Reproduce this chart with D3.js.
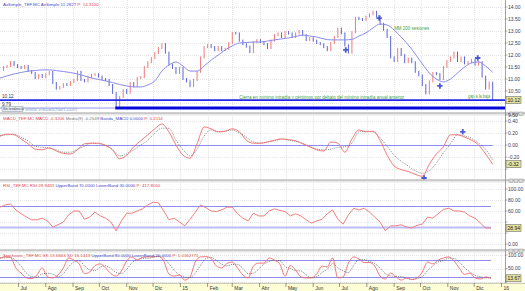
<!DOCTYPE html>
<html><head><meta charset="utf-8">
<script src="https://cdn.jsdelivr.net/npm/d3@7/dist/d3.min.js"></script>
<style>html,body{margin:0;padding:0;background:#fff;overflow:hidden}svg{display:block;font-family:Arial,"Liberation Sans",sans-serif}</style>
</head><body><svg id="c" width="525" height="291"></svg>
<script>
// ---------------- DATA ----------------
const startDate = "2014-06-10";
const endDate = "2016-01-05";
const priceStepDays = 4, maStepDays = 8, oscStepDays = 6;

// closing prices, one every 4 calendar days
const closes = [11.38,11.5,11.54,11.71,11.58,11.5,11.46,11.54,11.33,11.25,11.04,11.17,11.08,11.2,11.29,10.83,10.6,10.67,10.79,10.75,
10.87,10.96,11.3,10.96,10.9,11.08,11.17,11.2,11.1,11.0,10.96,10.75,10.42,9.82,10.25,10.54,10.42,10.83,10.7,11.04,
11.08,11.5,11.7,11.87,12.08,12.29,12.45,12.1,11.6,11.46,11.25,11.46,11.0,10.9,10.7,10.96,11.3,11.9,12.33,12.42,
12.33,12.2,12.33,12.2,12.25,12.5,12.92,12.9,12.6,12.45,12.35,12.12,12.54,12.62,12.54,12.45,12.29,12.6,12.83,12.9,
12.75,12.96,12.9,12.75,12.9,13.0,12.83,12.62,12.7,12.6,12.5,12.45,12.33,12.2,12.5,12.75,13.1,12.9,12.4,12.1,
12.95,13.55,13.5,13.46,13.6,13.7,13.8,13.6,13.3,13.05,12.75,11.9,11.75,12.25,12.0,11.7,11.85,11.7,11.3,11.15,
10.75,10.4,10.9,11.25,11.2,11.0,11.5,11.75,11.9,12.1,11.75,11.9,11.65,11.7,11.8,11.6,11.7,11.1,10.6,10.85,10.12];

// AxSimple (MM 200 sesiones), one every 8 days
const movingAvg = [11.04,11.13,11.21,11.27,11.33,11.35,11.38,11.38,11.35,11.31,11.27,11.21,11.13,11.04,10.98,10.92,10.85,10.77,10.71,10.67,
10.67,10.75,10.92,11.33,11.58,11.71,11.54,11.33,11.33,11.54,11.79,12.0,12.21,12.38,12.5,12.52,12.54,12.54,12.58,12.63,
12.67,12.71,12.77,12.83,12.79,12.75,12.67,12.63,12.63,12.63,12.65,12.79,12.92,13.13,13.29,13.25,13.04,12.75,12.42,12.04,
11.63,11.25,11.0,10.88,11.0,11.25,11.5,11.67,11.71,11.54,11.28];

// MACD and its 9-period average, one every 8 days
const macdLine = [0.15,0.18,0.17,0.10,0.02,-0.07,-0.08,-0.05,-0.10,-0.14,-0.15,-0.08,0.02,0.03,0.03,-0.01,-0.08,-0.23,-0.17,-0.03,
0.07,0.17,0.27,0.35,0.22,0.0,-0.17,-0.22,0.02,0.30,0.27,0.22,0.23,0.27,0.22,0.08,0.03,0.03,0.05,0.08,
0.10,0.09,0.07,0.02,-0.03,-0.08,-0.10,0.05,0.03,-0.12,0.10,0.25,0.22,0.23,0.08,-0.17,-0.35,-0.41,-0.44,-0.49,
-0.52,-0.32,-0.15,-0.03,0.17,0.17,0.13,0.08,0.0,-0.15,-0.32];
const macdSignal = [0.15,0.17,0.18,0.13,0.07,-0.02,-0.04,-0.05,-0.08,-0.12,-0.12,-0.07,-0.02,0.03,0.02,0.0,-0.08,-0.18,-0.15,-0.08,
0.0,0.08,0.2,0.28,0.28,0.08,-0.08,-0.18,-0.07,0.15,0.25,0.22,0.23,0.25,0.2,0.13,0.05,0.03,0.05,0.07,
0.10,0.08,0.06,0.03,-0.02,-0.07,-0.08,-0.07,-0.04,-0.03,0.03,0.22,0.23,0.22,0.12,-0.02,-0.17,-0.27,-0.35,-0.43,
-0.47,-0.43,-0.3,-0.13,0.02,0.17,0.15,0.11,0.03,-0.07,-0.25];

// RSI, one every 6 days
const rsiValues = [67,71,73,62,55,49,44,44,47,42,31,35,40,53,60,60,45,49,58,51,
47,40,24,42,56,56,60,64,71,76,75,60,44,47,40,33,45,58,71,66,
60,59,62,67,67,55,47,42,56,51,51,60,64,61,59,51,55,51,44,38,
42,45,55,62,45,36,53,65,62,65,58,49,40,24,33,33,35,31,29,34,
36,49,47,55,63,65,60,60,58,51,47,38,29,28.94];

// Stochastic %K and %D, one every 6 days
const stochK = [89,93,91,52,33,15,13,26,52,19,15,26,52,89,81,67,31,37,61,67,
52,31,22,41,78,93,81,91,93,93,96,78,30,22,26,7,19,74,93,94,
87,59,52,69,74,52,26,15,59,70,70,89,81,67,22,61,44,19,15,15,
30,59,56,89,15,19,70,93,85,72,72,59,22,11,33,19,7,15,9,15,
37,74,67,81,89,93,78,52,28,33,15,11,19,13.67];
const stochD = [88,90,91,79,59,33,20,18,30,32,29,20,31,56,74,79,60,45,43,55,
60,50,35,31,47,71,84,88,88,92,94,89,68,43,26,18,17,33,62,87,
91,80,66,60,65,65,51,31,33,48,66,76,80,79,57,50,42,41,26,16,
20,35,48,68,53,41,35,61,83,83,76,68,51,31,22,21,20,14,10,13,
20,42,59,74,79,88,87,74,53,38,25,20,15,16.1];

// levels and bands
const prevAnnualLow = 10.12;
const octLow = 9.79, octLowDate = "2014-10-19";
const macdBand = 0, rsiBands = [70, 30], stochBands = [80, 20];

// tick values
const priceTicks = [14,13.5,13,12.5,12,11.5,11,10.5,10,9.5];
const macdTicks = [0.4,0.2,0,-0.2,-0.4];
const rsiTicks = [100,80,60,40,20,0];
const stochTicks = [100,50,0];
const monthLabels = ["Jul","Ago","Sep","Oct","Nov","Dic","15","Feb","Mar","Abr","May","Jun","Jul","Ago","Sep","Oct","Nov","Dic","16"];
const firstMonth = "2014-07-01";

// signal markers
const priceSignalDates = ["2015-07-08","2015-08-15","2015-10-23","2015-12-05"];
const priceSignalValues = [12.21,13.54,10.71,11.875];
const macdSignalDates = ["2015-11-18","2015-10-05"];
const macdSignalValues = [0.22,-0.55];

// texts
const mainHeader = [["AxSimple_TEF.MC  AxSimple 11.2827  ","#4848c8"],["P: 14.3100","#e04848"]];
const macdHeader = [["MACD_TEF.MC  MACD -0.3206  ","#e04848"],["Media(9) -0.2549  ","#777"],["Banda_MACD 0.0000  ","#4848c8"],["P: 0.2114","#e04848"]];
const rsiHeader = [["RSI_TEF.MC  RSI 28.9433  ","#e04848"],["UpperBand 70.0000  LowerBand 30.0000  ","#4848c8"],["P: 417.8160","#e04848"]];
const stochHeader = [["Stochastic_TEF.MC  SK 13.6663  SD 16.1443  ","#e04848"],["UpperBand 80.0000  LowerBand 20.0000  ","#4848c8"],["P: 1.0162771","#e04848"]];
const annotations = [
  {text:"MM 200 sesiones", date:"2015-09-01", value:13.06, len:35},
  {text:"Cierra en mínimo intradía y céntimos por debajo del mínimo intradía anual anterior", date:"2015-03-09", value:10.17, len:165},
  {text:"gap a la baja", date:"2015-11-24", value:10.21, len:22}
];

// ---------------- DRAW ----------------
const parse = d3.timeParse("%Y-%m-%d");
const t0 = parse(startDate), t1 = parse(endDate);
const plotRight = 505;
const x = d3.scaleTime().domain([t0, t1]).range([0, plotRight]);
const seriesDates = (n, step) => d3.range(n).map(i => d3.timeDay.offset(t0, i * step));
const svg = d3.select("#c");
const fmt2 = v => v.toFixed(2);
const snap = v => Math.round(v) + 0.5;

const panels = {
  main: {top:0, bottom:112.5, y:d3.scaleLinear().domain([9.5,14]).range([115,7]), ticks:priceTicks},
  macd: {top:115.5, bottom:179.5, y:d3.scaleLinear().domain([-0.4,0.4]).range([169,121]), ticks:macdTicks},
  rsi:  {top:182.5, bottom:249.5, y:d3.scaleLinear().domain([0,100]).range([244,189]), ticks:rsiTicks},
  sto:  {top:252.5, bottom:283, y:d3.scaleLinear().domain([0,100]).range([282,255]), ticks:stochTicks}
};
const defs = svg.append("defs");
Object.entries(panels).forEach(([k,p]) => {
  defs.append("clipPath").attr("id","clip-"+k).append("rect")
    .attr("x",0).attr("y",p.top).attr("width",plotRight).attr("height",p.bottom-p.top);
  p.g = svg.append("g").attr("clip-path","url(#clip-"+k+")");
});

const months = d3.timeMonth.range(parse(firstMonth), d3.timeDay.offset(t1, 1));

// grids
Object.values(panels).forEach(p => {
  p.g.selectAll(".vg").data(months).join("line")
    .attr("x1",d=>snap(x(d))).attr("x2",d=>snap(x(d))).attr("y1",p.top).attr("y2",p.bottom)
    .attr("stroke","#d8d8d8").attr("stroke-width",0.7).attr("stroke-dasharray","1,1");
  p.g.selectAll(".hg").data(p.ticks).join("line")
    .attr("x1",0).attr("x2",plotRight).attr("y1",d=>snap(p.y(d))).attr("y2",d=>snap(p.y(d)))
    .attr("stroke","#dcdcdc").attr("stroke-width",0.7).attr("stroke-dasharray","1,1");
});

function band(p, v, x2, color, w){
  p.g.append("line").attr("x1",0).attr("x2",x2).attr("y1",snap(p.y(v))).attr("y2",snap(p.y(v)))
    .attr("stroke",color).attr("stroke-width",w);
}

// ---- main panel ----
const pm = panels.main, ym = pm.y;
const pDates = seriesDates(closes.length, priceStepDays);
const bars = closes.slice(1).map((c,i) => ({date:pDates[i+1], open:closes[i], close:c}));
pm.g.selectAll(".bar").data(bars).join("rect")
  .attr("x", d => x(d.date) - 0.5).attr("width", 1)
  .attr("y", d => Math.min(ym(d.open), ym(d.close)) - 1)
  .attr("height", d => Math.abs(ym(d.open) - ym(d.close)) + 2)
  .attr("fill", d => d.close >= d.open ? "#f07a7a" : "#5c66d2");

const maDates = seriesDates(movingAvg.length, maStepDays);
pm.g.append("path").datum(movingAvg)
  .attr("d", d3.line().x((d,i)=>x(maDates[i])).y(d=>ym(d)).curve(d3.curveMonotoneX))
  .attr("fill","none").attr("stroke","#8a8aee").attr("stroke-width",1);

// horizontal levels
pm.g.append("line").attr("x1",0).attr("x2",plotRight).attr("y1",ym(prevAnnualLow)).attr("y2",ym(prevAnnualLow))
  .attr("stroke","#2626e6").attr("stroke-width",1.6);
pm.g.append("line").attr("x1",0).attr("x2",x(parse(octLowDate))).attr("y1",ym(octLow)).attr("y2",ym(octLow))
  .attr("stroke","#7a7af0").attr("stroke-width",0.8);
pm.g.append("line").attr("x1",x(parse(octLowDate))).attr("x2",plotRight).attr("y1",ym(octLow)).attr("y2",ym(octLow))
  .attr("stroke","#0808dc").attr("stroke-width",3);
svg.append("text").attr("x",2).attr("y",ym(prevAnnualLow)-2).attr("font-size",4.6).attr("fill","#334").text(fmt2(prevAnnualLow));
svg.append("text").attr("x",2).attr("y",ym(octLow)-2.2).attr("font-size",4.6).attr("fill","#334").text(fmt2(octLow));

// watermark & trend box
svg.append("rect").attr("x",2).attr("y",106.5).attr("width",21).attr("height",5).attr("fill","#e6ecf2").attr("stroke","#7f8fa0").attr("stroke-width",0.5);
svg.append("text").attr("x",3).attr("y",110.3).attr("font-size",3.4).attr("fill","#445").text("Sin tendencia");
svg.append("text").attr("x",25).attr("y",111.3).attr("font-size",5.6).attr("fill","#9aaccc").text("www.visualchart.com");

// annotations
annotations.forEach(a => {
  svg.append("text").attr("x",x(parse(a.date))).attr("y",ym(a.value)).attr("font-size",5.2)
    .attr("fill","#3fa23f").attr("textLength",a.len).attr("lengthAdjust","spacingAndGlyphs").text(a.text);
});

// crosses
const cross = d3.symbol().type(d3.symbolCross).size(16);
svg.selectAll(".pc").data(priceSignalDates).join("path")
  .attr("transform",(d,i)=>`translate(${x(parse(d))},${ym(priceSignalValues[i])})`)
  .attr("d",cross).attr("fill","#4a5ad6");

// ---- MACD ----
const pc = panels.macd, yc = pc.y;
const cDates = seriesDates(macdLine.length, maStepDays);
const lastC = x(cDates[cDates.length-1]);
band(pc, macdBand, lastC, "#8c8cf2", 1);
pc.g.append("path").datum(macdSignal)
  .attr("d", d3.line().x((d,i)=>x(cDates[i])).y(d=>yc(d)).curve(d3.curveMonotoneX))
  .attr("fill","none").attr("stroke","#6a6a6a").attr("stroke-width",0.8).attr("stroke-dasharray","1,1.2");
pc.g.append("path").datum(macdLine)
  .attr("d", d3.line().x((d,i)=>x(cDates[i])).y(d=>yc(d)).curve(d3.curveMonotoneX))
  .attr("fill","none").attr("stroke","#f06a6a").attr("stroke-width",0.9);
svg.selectAll(".mc").data(macdSignalDates).join("path")
  .attr("transform",(d,i)=>`translate(${x(parse(d))},${yc(macdSignalValues[i])})`)
  .attr("d",cross).attr("fill","#4a5ad6");

// ---- RSI ----
const pr = panels.rsi, yr = pr.y;
const oDates = seriesDates(rsiValues.length, oscStepDays);
const lastO = x(oDates[oDates.length-1]);
band(pr, rsiBands[0], lastO, "#8c8cf2", 1);
band(pr, rsiBands[1], lastO, "#bcbcf6", 2);
pr.g.append("path").datum(rsiValues)
  .attr("d", d3.line().x((d,i)=>x(oDates[i])).y(d=>yr(d)))
  .attr("fill","none").attr("stroke","#f07070").attr("stroke-width",0.9);

// ---- Stochastic ----
const ps = panels.sto, ys = ps.y;
stochBands.forEach(b => band(ps, b, lastO, "#8c8cf2", 1));
ps.g.append("path").datum(stochD)
  .attr("d", d3.line().x((d,i)=>x(oDates[i])).y(d=>ys(d)).curve(d3.curveMonotoneX))
  .attr("fill","none").attr("stroke","#555").attr("stroke-width",0.8).attr("stroke-dasharray","1,1.2");
ps.g.append("path").datum(stochK)
  .attr("d", d3.line().x((d,i)=>x(oDates[i])).y(d=>ys(d)).curve(d3.curveMonotoneX))
  .attr("fill","none").attr("stroke","#f06a6a").attr("stroke-width",0.9);

// ---- separators ----
[112.5, 179.5, 249.5].forEach(s => {
  svg.append("rect").attr("x",0).attr("y",s).attr("width",525).attr("height",3).attr("fill","#e8e8e8");
  svg.append("line").attr("x1",0).attr("x2",525).attr("y1",s+0.5).attr("y2",s+0.5).attr("stroke","#9a9a9a").attr("stroke-width",0.8);
  [509,514,519].forEach(bx => svg.append("rect").attr("x",bx).attr("y",s-0.5).attr("width",4).attr("height",3.5).attr("fill","#d8d8d8").attr("stroke","#888").attr("stroke-width",0.4));
});

// right border
svg.append("line").attr("x1",plotRight+0.5).attr("x2",plotRight+0.5).attr("y1",0).attr("y2",283).attr("stroke","#8a8a8a").attr("stroke-width",0.8);

// current value boxes (positions)
const boxes = [[pm, closes[closes.length-1]],[pc, macdLine[macdLine.length-1]],[pr, rsiValues[rsiValues.length-1]],[ps, stochK[stochK.length-1]]];

// right axes
Object.values(panels).forEach(p => {
  const bx = boxes.find(b => b[0] === p);
  const by = bx ? p.y(bx[1]) : -99;
  p.ticks.forEach(t => {
    const yy = p.y(t);
    svg.append("line").attr("x1",plotRight).attr("x2",plotRight+2.5).attr("y1",yy).attr("y2",yy).attr("stroke","#666").attr("stroke-width",0.5);
    if (Math.abs(yy - by) < 6.5) return; // hidden behind the value box
    svg.append("text").attr("x",508).attr("y",yy+1.8).attr("font-size",5).attr("fill","#3a3a55").text(fmt2(t));
  });
});

boxes.forEach(([p,v]) => {
  const yy = p.y(v);
  svg.append("rect").attr("x",506).attr("y",yy-3.5).attr("width",15).attr("height",7).attr("fill","#e2e2a2").attr("stroke","#555").attr("stroke-width",0.5);
  svg.append("text").attr("x",507.5).attr("y",yy+1.8).attr("font-size",5).attr("fill","#222").text(fmt2(v));
});

// headers
function header(parts, yy){
  const t = svg.append("text").attr("x",3).attr("y",yy).attr("font-size",4.4);
  parts.forEach(([s,c]) => t.append("tspan").attr("fill",c).text(s));
}
header(mainHeader, 5.5);
header(macdHeader, 120);
header(rsiHeader, 187);
header(stochHeader, 256.5);

// bottom time axis
svg.append("rect").attr("x",0).attr("y",283).attr("width",525).attr("height",8).attr("fill","#fdfdd6");
svg.append("line").attr("x1",0).attr("x2",525).attr("y1",283.3).attr("y2",283.3).attr("stroke","#999").attr("stroke-width",0.6);
months.forEach((m,i) => {
  svg.append("line").attr("x1",x(m)).attr("x2",x(m)).attr("y1",283).attr("y2",287).attr("stroke","#555").attr("stroke-width",0.6);
  if (monthLabels[i]) svg.append("text").attr("x",x(m)+2).attr("y",290).attr("font-size",5).attr("fill","#333").text(monthLabels[i]);
});
</script></body></html>
